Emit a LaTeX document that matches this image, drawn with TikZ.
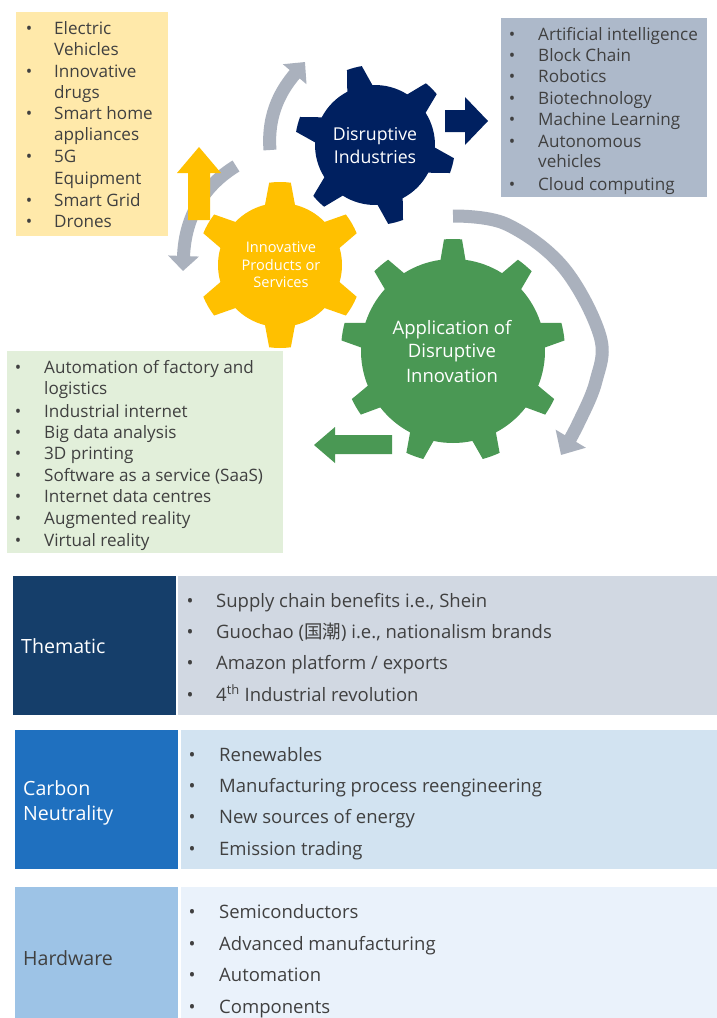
\documentclass[tikz,border=0pt]{standalone}
\usepackage{fontspec}
\setmainfont{Open Sans}
\newfontfamily\cjk{Noto Sans CJK SC}
\usetikzlibrary{arrows.meta}
\definecolor{navyG}{RGB}{0,32,96}
\definecolor{yellowG}{RGB}{255,192,0}
\definecolor{greenG}{RGB}{74,152,84}
\definecolor{arrgray}{RGB}{170,177,189}
\definecolor{yboxc}{RGB}{255,233,170}
\definecolor{bboxc}{RGB}{173,185,202}
\definecolor{gboxc}{RGB}{226,239,218}
\definecolor{tAl}{RGB}{21,62,106}
\definecolor{tAr}{RGB}{209,216,226}
\definecolor{tBl}{RGB}{31,112,191}
\definecolor{tBr}{RGB}{210,227,241}
\definecolor{tCl}{RGB}{157,195,230}
\definecolor{tCr}{RGB}{234,242,251}
\definecolor{txtc}{RGB}{64,64,64}
% gear: cx, cy, teeth, start angle, body r, outer r, base half-angle, tip half-angle, colour
\newcommand{\mygear}[9]{%
  \begin{scope}[shift={(#1,#2)}]
    \fill[#9] (#4-#7:#5pt)
      \foreach \k [evaluate=\k as \a using #4+(\k-1)*360/#3] in {1,...,#3}{
        -- (\a-#8:#6pt) arc[start angle=\a-#8, end angle=\a+#8, radius=#6pt]
        -- (\a+#7:#5pt) arc[start angle=\a+#7, end angle=\a+360/#3-#7, radius=#5pt]
      } -- cycle;
  \end{scope}}
\tikzset{
  lst/.style={anchor=base west, inner sep=0pt, text=txtc, font=\fontsize{17.1}{20}\selectfont},
  bul/.style={anchor=base, inner sep=0pt, text=txtc, font=\fontsize{17.1}{20}\selectfont},
  tbl/.style={anchor=base west, inner sep=0pt, text=txtc, font=\fontsize{18.5}{22}\selectfont},
  tbul/.style={anchor=base, inner sep=0pt, text=txtc, font=\fontsize{18.5}{22}\selectfont},
  lab/.style={anchor=base west, inner sep=0pt, font=\fontsize{19.6}{23}\selectfont},
  gtxt/.style={anchor=base, inner sep=0pt, text=white},
  garrow/.style={draw=arrgray, line width=13pt},
}
\begin{document}
\begin{tikzpicture}[x=1pt,y=-1pt]
\useasboundingbox (0,0) rectangle (717,1018);
\fill[white] (0,0) rectangle (717,1018);

% ---------- list boxes ----------
\fill[yboxc] (16,12) rectangle (168,236);
\fill[bboxc] (501,18) rectangle (707,197);
\fill[gboxc] (7,351) rectangle (283,553);

% yellow box
\node[bul] (yb1) at (29,34) {•};  \node[lst] (yt1) at (54,34) {Electric};
\node[lst] (yt1b) at (54,55) {Vehicles};
\node[bul] (yb2) at (29,77) {•};  \node[lst] (yt2) at (54,77) {Innovative};
\node[lst] (yt2b) at (54,98) {drugs};
\node[bul] (yb3) at (29,119) {•}; \node[lst] (yt3) at (54,119) {Smart home};
\node[lst] (yt3b) at (54,140) {appliances};
\node[bul] (yb4) at (29,162) {•}; \node[lst] (yt4) at (54,162) {5G};
\node[lst] (yt4b) at (54,184) {Equipment};
\node[bul] (yb5) at (29,206) {•}; \node[lst] (yt5) at (54,206) {Smart Grid};
\node[bul] (yb6) at (29,227) {•}; \node[lst] (yt6) at (54,227) {Drones};

% blue-grey box
\node[bul] (bb1) at (512,40) {•};  \node[lst] (bt1) at (538,40) {Artificial intelligence};
\node[bul] (bb2) at (512,61) {•};  \node[lst] (bt2) at (538,61) {Block Chain};
\node[bul] (bb3) at (512,82) {•};  \node[lst] (bt3) at (538,82) {Robotics};
\node[bul] (bb4) at (512,104) {•}; \node[lst] (bt4) at (538,104) {Biotechnology};
\node[bul] (bb5) at (512,125) {•}; \node[lst] (bt5) at (538,125) {Machine Learning};
\node[bul] (bb6) at (512,147) {•}; \node[lst] (bt6) at (538,147) {Autonomous};
\node[lst] (bt6b) at (538,167) {vehicles};
\node[bul] (bb7) at (512,190) {•}; \node[lst] (bt7) at (538,190) {Cloud computing};

% green box
\node[bul] (gb1) at (18,373) {•}; \node[lst] (gt1) at (44,373) {Automation of factory and};
\node[lst] (gt1b) at (44,394) {logistics};
\node[bul] (gb2) at (18,417) {•}; \node[lst] (gt2) at (44,417) {Industrial internet};
\node[bul] (gb3) at (18,438) {•}; \node[lst] (gt3) at (44,438) {Big data analysis};
\node[bul] (gb4) at (18,459) {•}; \node[lst] (gt4) at (44,459) {3D printing};
\node[bul] (gb5) at (18,481) {•}; \node[lst] (gt5) at (44,481) {Software as a service (SaaS)};
\node[bul] (gb6) at (18,502) {•}; \node[lst] (gt6) at (44,502) {Internet data centres};
\node[bul] (gb7) at (18,524) {•}; \node[lst] (gt7) at (44,524) {Augmented reality};
\node[bul] (gb8) at (18,546) {•}; \node[lst] (gt8) at (44,546) {Virtual reality};

% ---------- gears ----------
\mygear{375}{145}{6}{105}{60}{80}{12.5}{5.5}{navyG}
\mygear{280}{265}{6}{90}{62}{83}{14}{7.5}{yellowG}
\mygear{453}{351}{9}{90}{92}{112}{7.8}{4.6}{greenG}

\node[gtxt, font=\fontsize{17.7}{20}\selectfont] (n1) at (375,140) {Disruptive};
\node[gtxt, font=\fontsize{17.7}{20}\selectfont] (n2) at (375,163) {Industries};
\node[gtxt, font=\fontsize{14.6}{16}\selectfont] (y1) at (281,252) {Innovative};
\node[gtxt, font=\fontsize{14.6}{16}\selectfont] (y2) at (281,270) {Products or};
\node[gtxt, font=\fontsize{14.6}{16}\selectfont] (y3) at (281,287) {Services};
\node[gtxt, font=\fontsize{18.5}{21}\selectfont] (a1) at (452,334) {Application of};
\node[gtxt, font=\fontsize{18.5}{21}\selectfont] (a2) at (452,357) {Disruptive};
\node[gtxt, font=\fontsize{18.5}{21}\selectfont] (a3) at (452,382) {Innovation};

% ---------- grey circular arrows ----------
\draw[garrow, -{Triangle[width=30pt,length=16pt]}] (270,150) .. controls (267,112) and (283,88) .. (305,62);
\draw[garrow, -{Triangle[width=30pt,length=15pt]}] (236,166) .. controls (205,185) and (185,215) .. (183,271);
\draw[garrow, -{Triangle[width=34pt,length=19pt]}] plot[smooth, tension=0.6] coordinates {(453,216) (506,224) (563,267) (600,336) (596,381) (578,424) (561,455)};

% ---------- block arrows ----------
\fill[navyG] (445,110) -- (465,110) -- (465,97) -- (488,121) -- (465,145) -- (465,132) -- (445,132) -- cycle;
\fill[yellowG] (188,220) -- (188,173) -- (177,173) -- (199,147) -- (221,173) -- (210,173) -- (210,220) -- cycle;
\fill[greenG] (392,435) -- (335,435) -- (335,427) -- (314,445) -- (335,463) -- (335,454) -- (392,454) -- cycle;

% ---------- table ----------
\fill[tAl] (13,576) rectangle (176,715);
\fill[tAr] (178,576) rectangle (717,715);
\fill[tBl] (15,730) rectangle (178,869);
\fill[tBr] (181,730) rectangle (717,869);
\fill[tCl] (15,887) rectangle (178,1018);
\fill[tCr] (181,887) rectangle (717,1018);

\node[lab, text=white] (L1) at (21,653) {Thematic};
\node[lab, text=white] (L2a) at (23,795) {Carbon};
\node[lab, text=white] (L2b) at (23,820) {Neutrality};
\node[lab, text=txtc] (L3) at (23,965) {Hardware};

\node[tbul] (r1b1) at (190,607) {•}; \node[tbl] (r1t1) at (216,607) {Supply chain benefits i.e., Shein};
\node[tbul] (r1b2) at (190,638) {•}; \node[tbl] (r1t2) at (216,638) {Guochao ({\cjk 国潮}) i.e., nationalism brands};
\node[tbul] (r1b3) at (190,669) {•}; \node[tbl] (r1t3) at (216,669) {Amazon platform / exports};
\node[tbul] (r1b4) at (190,701) {•}; \node[tbl] (r1t4) at (216,701) {4\textsuperscript{th} Industrial revolution};

\node[tbul] (r2b1) at (192,761) {•}; \node[tbl] (r2t1) at (219,761) {Renewables};
\node[tbul] (r2b2) at (192,792) {•}; \node[tbl] (r2t2) at (219,792) {Manufacturing process reengineering};
\node[tbul] (r2b3) at (192,823) {•}; \node[tbl] (r2t3) at (219,823) {New sources of energy};
\node[tbul] (r2b4) at (192,855) {•}; \node[tbl] (r2t4) at (219,855) {Emission trading};

\node[tbul] (r3b1) at (192,918) {•}; \node[tbl] (r3t1) at (219,918) {Semiconductors};
\node[tbul] (r3b2) at (192,950) {•}; \node[tbl] (r3t2) at (219,950) {Advanced manufacturing};
\node[tbul] (r3b3) at (192,981) {•}; \node[tbl] (r3t3) at (219,981) {Automation};
\node[tbul] (r3b4) at (192,1013) {•}; \node[tbl] (r3t4) at (219,1013) {Components};
\end{tikzpicture}
\end{document}
